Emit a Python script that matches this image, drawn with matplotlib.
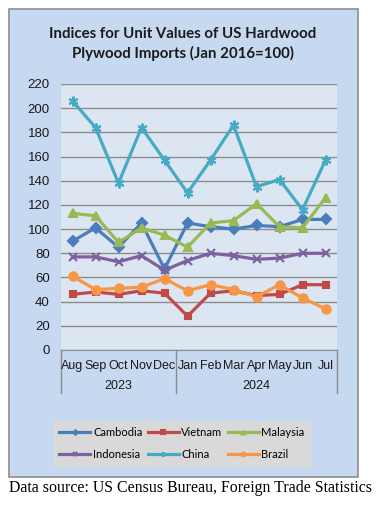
import matplotlib
matplotlib.use("Agg")
import matplotlib.pyplot as plt
from matplotlib.patches import Rectangle
from matplotlib.lines import Line2D

months = ["Aug", "Sep", "Oct", "Nov", "Dec", "Jan", "Feb", "Mar", "Apr", "May", "Jun", "Jul"]
years = ["2023", "2024"]
year_spans = [(0, 4), (5, 11)]

cambodia = [90, 101, 85, 105, 67, 105, 102, 100, 103, 102, 108, 108]
vietnam = [46, 48, 46, 49, 47, 28, 47, 49, 45, 46, 54, 54]
malaysia = [113, 111, 89, 101, 95, 85, 105, 107, 121, 102, 101, 126]
indonesia = [77, 77, 73, 78, 66, 74, 80, 78, 75, 76, 80, 80]
china = [206, 184, 138, 184, 157, 130, 157, 186, 135, 141, 116, 157]
brazil = [61, 50, 51, 52, 59, 49, 54, 50, 44, 54, 43, 34]

series = [
    ("Cambodia", cambodia, "#4A7EBB", "D", 5),
    ("Vietnam", vietnam, "#BE4B48", "s", 5),
    ("Malaysia", malaysia, "#98B954", "^", 6),
    ("Indonesia", indonesia, "#7D60A0", "x", 6),
    ("China", china, "#46AAC5", (6, 2, 0), 7),
    ("Brazil", brazil, "#F79646", "o", 6),
]

W, H = 381, 505
fig = plt.figure(figsize=(W / 100, H / 100), dpi=100)
fig.patch.set_facecolor("white")

# outer panel
fig.patches.append(Rectangle((9 / W, 1 - 477 / H), (358 - 9) / W, (477 - 9) / H,
                             transform=fig.transFigure, facecolor="#C6D9F1",
                             edgecolor="#8C8C8C", linewidth=1.2, zorder=-5))

ax = fig.add_axes([61 / W, 1 - 350 / H, (337 - 61) / W, (350 - 84) / H])
ax.set_zorder(2)
ax.set_facecolor("#DCE6F2")
x = list(range(len(months)))
handles = {}
for name, vals, col, mk, ms in series:
    (h,) = ax.plot(x, vals, color=col, lw=2.3, marker=mk, markersize=ms,
                   markeredgewidth=1.5, markeredgecolor=col, markerfacecolor=col,
                   label=name, zorder=3)
    handles[name] = h

ax.set_xlim(-0.5, len(months) - 0.5)
ax.set_ylim(0, 220)
ax.set_yticks(range(0, 221, 20))
ax.yaxis.grid(True, color="#8C8C8C", lw=1.0)
ax.set_axisbelow(True)
for s in ["top", "right", "left"]:
    ax.spines[s].set_visible(False)
ax.spines["bottom"].set_color("#8C8C8C")
ax.tick_params(axis="y", length=0, pad=8, labelsize=9.5, labelcolor="#1a1a1a")
ax.tick_params(axis="x", length=0)
ax.set_xticks([])
for lab in ax.get_yticklabels():
    lab.set_fontfamily("Liberation Sans")

ht = (350 - 84)
tr = ax.get_xaxis_transform()
for i, m in enumerate(months):
    ax.text(i, -16 / ht, m, transform=tr, ha="center", va="center",
            fontsize=9, family="Liberation Sans", color="#1a1a1a")
for yr, (a, b) in zip(years, year_spans):
    ax.text((a + b) / 2, -36 / ht, yr, transform=tr, ha="center", va="center",
            fontsize=9, family="Liberation Sans", color="#1a1a1a")
for xb in [-0.5, 4.5, 11.5]:
    ax.add_line(Line2D([xb, xb], [0, -43 / ht], transform=tr, color="#8C8C8C",
                       lw=1.0, clip_on=False))

fig.text(183 / W, 1 - 44 / H,
         "Indices for Unit Values of US Hardwood\nPlywood Imports (Jan 2016=100)",
         ha="center", va="center", fontsize=10.8, fontweight="bold",
         family="Lato", color="#1a1a1a", linespacing=1.4)

order = ["Cambodia", "Indonesia", "Vietnam", "China", "Malaysia", "Brazil"]
leg = fig.legend([handles[n] for n in order], order, loc="center",
                 bbox_to_anchor=(182 / W, 1 - 443.5 / H), bbox_transform=fig.transFigure,
                 ncol=3, frameon=True, fancybox=False,
                 handlelength=2.8, handletextpad=0.25, columnspacing=0.45,
                 labelspacing=1.0, borderpad=0.5, borderaxespad=0, markerscale=0.45,
                 prop={"family": "Lato", "size": 8})
leg.get_frame().set_facecolor("#D9D9D9")
leg.get_frame().set_edgecolor("#D9D9D9")
leg.get_frame().set_alpha(1)
leg.set_zorder(3)

fig.text(9 / W, 1 - 488 / H, "Data source: US Census Bureau, Foreign Trade Statistics",
         ha="left", va="center", fontsize=11.4, family="Liberation Serif", color="black")

fig.savefig("out.png", dpi=100)
